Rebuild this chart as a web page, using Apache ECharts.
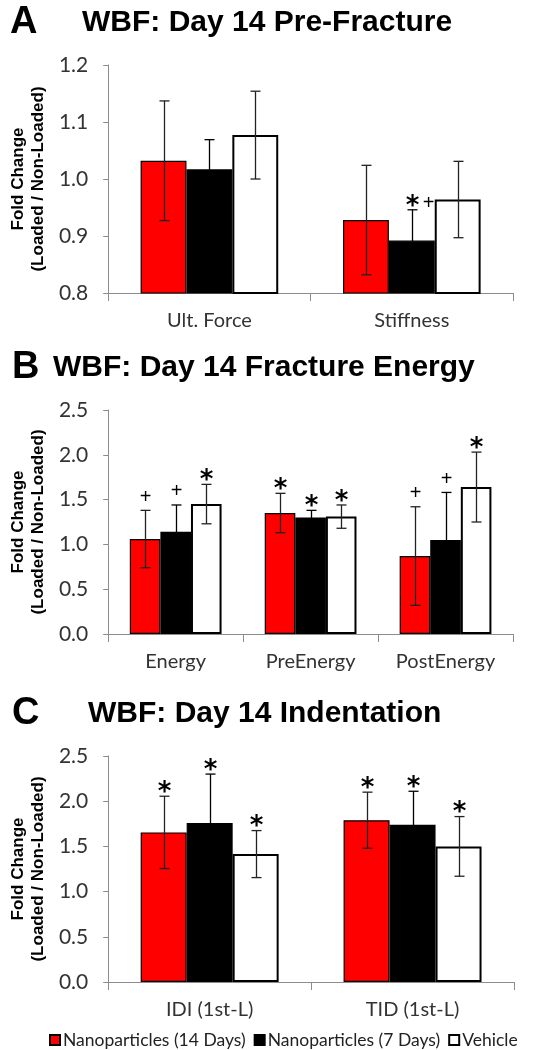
<!DOCTYPE html>
<html>
<head>
<meta charset="utf-8">
<script src="https://cdn.jsdelivr.net/npm/echarts@6/dist/echarts.min.js"></script>
<style>html,body{margin:0;padding:0;background:#fff;}#chart{width:534px;height:1050px;}</style>
</head>
<body>
<div id="chart"></div>
<script>
// ---- Data ----
const seriesNames = ['Nanoparticles (14 Days)', 'Nanoparticles (7 Days)', 'Vehicle'];

// Panel A: Pre-Fracture
const catsA = ['Ult. Force', 'Stiffness'];
const meanA_np14 = [1.032, 0.928];
const meanA_np7  = [1.017, 0.892];
const meanA_veh  = [1.077, 0.964];
const sdA_np14 = [0.105, 0.096];
const sdA_np7  = [0.052, 0.054];
const sdA_veh  = [0.077, 0.067];
const markA_np14 = ['', ''];
const markA_np7  = ['', '*+'];
const markA_veh  = ['', ''];

// Panel B: Fracture Energy
const catsB = ['Energy', 'PreEnergy', 'PostEnergy'];
const meanB_np14 = [1.06, 1.35, 0.87];
const meanB_np7  = [1.14, 1.30, 1.05];
const meanB_veh  = [1.45, 1.31, 1.64];
const sdB_np14 = [0.32, 0.22, 0.55];
const sdB_np7  = [0.30, 0.08, 0.53];
const sdB_veh  = [0.22, 0.13, 0.39];
const markB_np14 = ['+', '*', '+'];
const markB_np7  = ['+', '*', '+'];
const markB_veh  = ['*', '*', '*'];

// Panel C: Indentation
const catsC = ['IDI (1st-L)', 'TID (1st-L)'];
const meanC_np14 = [1.655, 1.79];
const meanC_np7  = [1.76, 1.74];
const meanC_veh  = [1.415, 1.50];
const sdC_np14 = [0.40, 0.31];
const sdC_np7  = [0.54, 0.37];
const sdC_veh  = [0.26, 0.33];
const markC_np14 = ['*', '*'];
const markC_np7  = ['*', '*'];
const markC_veh  = ['*', '*'];

// y axis ranges / ticks
const yA = {min: 0.8, max: 1.2, interval: 0.1};
const yB = {min: 0, max: 2.5, interval: 0.5};
const yC = {min: 0, max: 2.5, interval: 0.5};

const titles = [
  {letter: 'A', text: 'WBF: Day 14 Pre-Fracture'},
  {letter: 'B', text: 'WBF: Day 14 Fracture Energy'},
  {letter: 'C', text: 'WBF: Day 14 Indentation'}
];

// ---- Styles ----
const COLORS = ['#ff0000', '#000000', '#ffffff'];
const CAT_GAP = 0.32;
const LABEL_FONT = 'Lato, "Open Sans", sans-serif';
const grids = [
  {left: 99, right: 21, top: 65, height: 228},
  {left: 99, right: 21, top: 410, height: 224},
  {left: 99, right: 20, top: 756, height: 226}
];
const titlePos = [
  {lx: 10, tx: 82, y: 23},
  {lx: 12, tx: 53, y: 368},
  {lx: 12, tx: 88, y: 714}
];

const panels = [
  {cats: catsA, y: yA, means: [meanA_np14, meanA_np7, meanA_veh], sds: [sdA_np14, sdA_np7, sdA_veh], marks: [markA_np14, markA_np7, markA_veh], fmt: 1},
  {cats: catsB, y: yB, means: [meanB_np14, meanB_np7, meanB_veh], sds: [sdB_np14, sdB_np7, sdB_veh], marks: [markB_np14, markB_np7, markB_veh], fmt: 1},
  {cats: catsC, y: yC, means: [meanC_np14, meanC_np7, meanC_veh], sds: [sdC_np14, sdC_np7, sdC_veh], marks: [markC_np14, markC_np7, markC_veh], fmt: 1}
];

const xAxes = [], yAxes = [], series = [], graphics = [];

panels.forEach((p, gi) => {
  xAxes.push({
    type: 'category', gridIndex: gi, data: p.cats,
    axisLine: {lineStyle: {color: '#8c8c8c', width: 1}},
    axisTick: {show: true, length: 8, alignWithLabel: false, lineStyle: {color: '#8c8c8c'}},
    axisLabel: {color: '#333', fontFamily: LABEL_FONT, fontSize: 20, margin: 18},
    splitLine: {show: false}
  });
  yAxes.push({
    type: 'value', gridIndex: gi, min: p.y.min, max: p.y.max, interval: p.y.interval,
    name: 'Fold Change\n(Loaded / Non-Loaded)', nameLocation: 'middle', nameRotate: 90, nameGap: 57,
    nameTextStyle: {fontFamily: '"Liberation Sans", Arial, sans-serif', fontWeight: 'bold', fontSize: 17, lineHeight: 20, color: '#000'},
    axisLine: {show: true, lineStyle: {color: '#8c8c8c', width: 1}},
    axisTick: {show: true, length: 5, lineStyle: {color: '#8c8c8c'}},
    axisLabel: {color: '#333', fontFamily: LABEL_FONT, fontSize: 21, margin: 20,
      formatter: v => v.toFixed(p.fmt)},
    splitLine: {show: false}
  });
  p.means.forEach((m, si) => {
    series.push({
      type: 'bar', name: seriesNames[si], xAxisIndex: gi, yAxisIndex: gi,
      data: m, barGap: '0%', barCategoryGap: (CAT_GAP * 100) + '%',
      itemStyle: {color: COLORS[si], borderColor: '#000', borderWidth: si === 2 ? 2 : 1.2},
      z: 2, silent: true
    });
  });
  // error bars + significance marks
  const errData = [];
  p.means.forEach((m, si) => {
    m.forEach((v, ci) => {
      errData.push([ci, v - p.sds[si][ci], v + p.sds[si][ci], si, p.marks[si][ci]]);
    });
  });
  series.push({
    type: 'custom', xAxisIndex: gi, yAxisIndex: gi, z: 5, silent: true,
    data: errData,
    encode: {x: 0, y: [1, 2]},
    renderItem: (params, api) => {
      const d = errData[params.dataIndex];
      const ci = d[0], lo = d[1], hi = d[2], si = d[3], mark = d[4];
      const band = api.size([1, 0])[0];
      const bw = band * (1 - CAT_GAP) / 3;
      const base = api.coord([ci, lo]);
      const x = Math.round(base[0] + (si - 1) * bw) + 0.5;
      const yLo = api.coord([ci, lo])[1];
      const yHi = api.coord([ci, hi])[1];
      const cap = 5;
      const ls = {stroke: si === 1 ? '#000' : '#222', lineWidth: 1.3};
      const children = [
        {type: 'line', shape: {x1: x, y1: yLo, x2: x, y2: yHi}, style: ls},
        {type: 'line', shape: {x1: x - cap, y1: yHi, x2: x + cap, y2: yHi}, style: ls},
        {type: 'line', shape: {x1: x - cap, y1: yLo, x2: x + cap, y2: yLo}, style: ls}
      ];
      let mx = x;
      const hasStar = mark.indexOf('*') >= 0;
      for (let k = 0; k < mark.length; k++) {
        const ch = mark[k];
        const isStar = ch === '*';
        children.push({
          type: 'text',
          style: {
            text: ch, x: mx + (k > 0 ? 1 : 0), y: isStar ? yHi - 3 : (hasStar ? yHi - 6 : yHi - 13),
            textAlign: 'center', textVerticalAlign: 'middle',
            fontFamily: isStar ? '"DejaVu Sans", sans-serif' : '"Liberation Sans", Arial, sans-serif',
            fontWeight: isStar ? 'bold' : 'normal',
            fontSize: isStar ? 26 : 20, fill: '#000'
          }
        });
        mx += 15;
      }
      return {type: 'group', children};
    }
  });
  graphics.push({
    type: 'text', left: titlePos[gi].lx, top: titlePos[gi].y - 19,
    style: {text: titles[gi].letter, fontFamily: '"Liberation Sans", Arial, sans-serif', fontWeight: 'bold', fontSize: 38, fill: '#000'}
  });
  graphics.push({
    type: 'text', left: titlePos[gi].tx, top: titlePos[gi].y - 15,
    style: {text: titles[gi].text, fontFamily: '"Liberation Sans", Arial, sans-serif', fontWeight: 'bold', fontSize: 30, fill: '#000'}
  });
});

const chart = echarts.init(document.getElementById('chart'), null, {renderer: 'canvas'});
chart.setOption({
  animation: false,
  backgroundColor: '#fff',
  grid: grids,
  xAxis: xAxes,
  yAxis: yAxes,
  series: series,
  graphic: graphics,
  legend: {
    data: seriesNames.map(n => ({name: n, icon: 'rect'})),
    left: 49, top: 1031, itemWidth: 10, itemHeight: 10, itemGap: 8,
    padding: 0,
    textStyle: {fontFamily: LABEL_FONT, fontSize: 17.5, color: '#222', padding: [0, 0, 0, -2]},
    selectedMode: false
  }
});
</script>
</body>
</html>
